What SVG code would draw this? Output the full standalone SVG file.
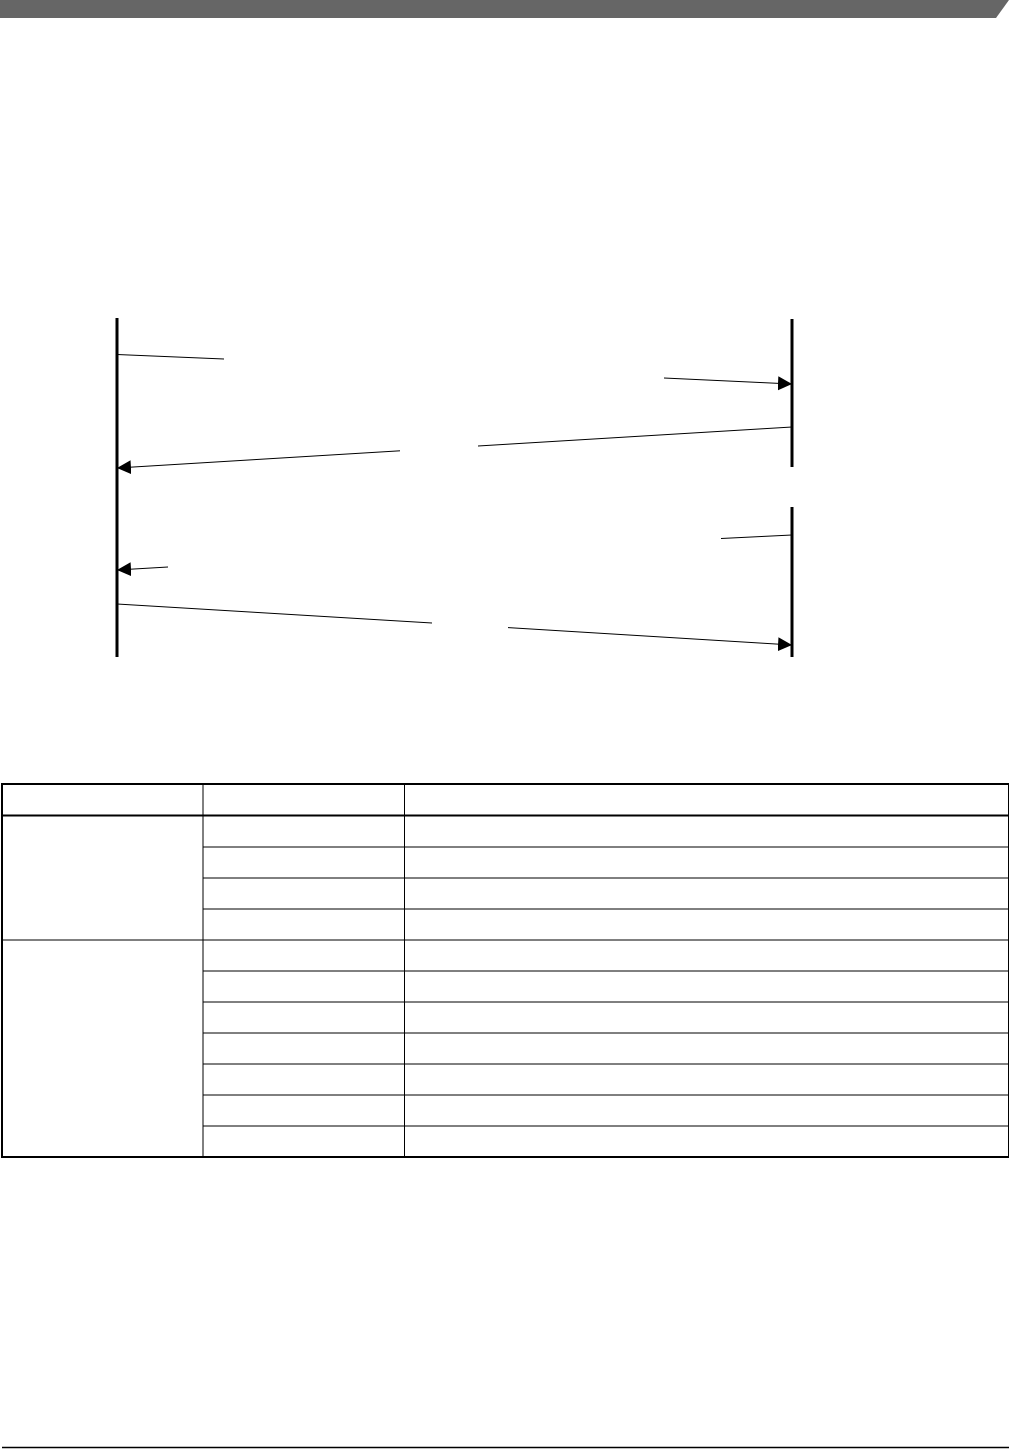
<svg xmlns="http://www.w3.org/2000/svg" width="1011" height="1449" viewBox="0 0 1011 1449">
  <style>
    .lifeline { stroke: #000; stroke-width: 3; fill: none; }
    .msg { stroke: #000; stroke-width: 1; fill: none; }
    .thin { stroke: #000; stroke-width: 1; fill: none; }
    .thick { stroke: #000; stroke-width: 2; fill: none; }
  </style>
  <defs>
    <marker id="arrow" markerUnits="userSpaceOnUse" markerWidth="15" markerHeight="15" refX="14" refY="7" orient="auto">
      <path d="M0,0 L14,7 L0,14 z" fill="#000"/>
    </marker>
  </defs>
  <rect width="1011" height="1449" fill="#fff"/>
  <g id="header-band">
    <polygon points="0,0 1009,0 996,18 0,18" fill="#666666"/>
  </g>
  <g id="lifeline-left">
    <line class="lifeline" x1="117" y1="318" x2="117" y2="657"/>
  </g>
  <g id="lifeline-right-1">
    <line class="lifeline" x1="792" y1="319" x2="792" y2="467"/>
  </g>
  <g id="lifeline-right-2">
    <line class="lifeline" x1="792" y1="507" x2="792" y2="657"/>
  </g>
  <g id="connectors">
    <line class="msg" x1="117" y1="354.5" x2="224" y2="359"/>
    <line class="msg" x1="664" y1="378" x2="792" y2="384" marker-end="url(#arrow)"/>
    <line class="msg" x1="792" y1="427" x2="478" y2="446"/>
    <line class="msg" x1="400" y1="450.8" x2="117" y2="468" marker-end="url(#arrow)"/>
    <line class="msg" x1="792" y1="535" x2="721" y2="538.5"/>
    <line class="msg" x1="168" y1="567" x2="117" y2="570" marker-end="url(#arrow)"/>
    <line class="msg" x1="117" y1="604" x2="432" y2="623"/>
    <line class="msg" x1="508" y1="627.6" x2="792" y2="645" marker-end="url(#arrow)"/>
  </g>
  <g id="table">
    <line class="thin" x1="203" y1="847" x2="1009" y2="847"/>
    <line class="thin" x1="203" y1="878" x2="1009" y2="878"/>
    <line class="thin" x1="203" y1="909" x2="1009" y2="909"/>
    <line class="thin" x1="1" y1="940" x2="1009" y2="940"/>
    <line class="thin" x1="203" y1="971" x2="1009" y2="971"/>
    <line class="thin" x1="203" y1="1002" x2="1009" y2="1002"/>
    <line class="thin" x1="203" y1="1033" x2="1009" y2="1033"/>
    <line class="thin" x1="203" y1="1064" x2="1009" y2="1064"/>
    <line class="thin" x1="203" y1="1095" x2="1009" y2="1095"/>
    <line class="thin" x1="203" y1="1126" x2="1009" y2="1126"/>
    <line class="thin" x1="203" y1="784" x2="203" y2="1157"/>
    <line class="thin" x1="404.5" y1="784" x2="404.5" y2="1157"/>
    <line class="thick" x1="2" y1="783" x2="2" y2="1157"/>
    <line class="thin" x1="1008.5" y1="783" x2="1008.5" y2="1157"/>
    <line class="thick" x1="1" y1="784" x2="1009" y2="784"/>
    <line class="thick" x1="1" y1="815.5" x2="1009" y2="815.5"/>
    <line class="thick" x1="1" y1="1157" x2="1009" y2="1157"/>
  </g>
  <g id="footer-rule">
    <line x1="2" y1="1447.5" x2="1009" y2="1447.5" stroke="#000" stroke-width="1.5"/>
  </g>
</svg>
